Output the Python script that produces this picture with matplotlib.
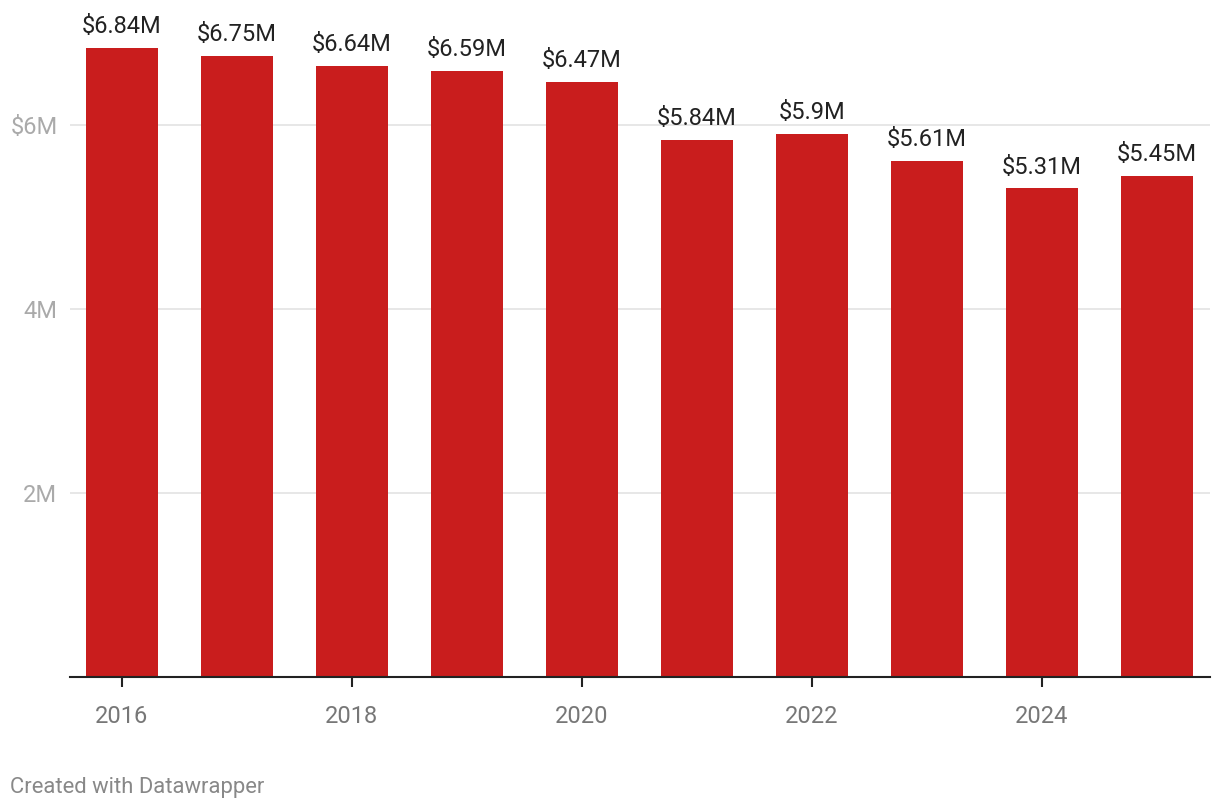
import numpy as np
import matplotlib
matplotlib.use("Agg")
import matplotlib.pyplot as plt

plt.rcParams["font.family"] = ["Roboto", "DejaVu Sans"]

years = [2016, 2017, 2018, 2019, 2020, 2021, 2022, 2023, 2024, 2025]
values = [6.84, 6.75, 6.64, 6.59, 6.47, 5.84, 5.90, 5.61, 5.31, 5.45]
labels = ["$6.84M", "$6.75M", "$6.64M", "$6.59M", "$6.47M",
          "$5.84M", "$5.9M", "$5.61M", "$5.31M", "$5.45M"]
yticks = [2, 4, 6]
ytick_labels = ["2M", "4M", "$6M"]
xticks = [2016, 2018, 2020, 2022, 2024]

fig = plt.figure(figsize=(12.2, 8.1), dpi=100)
ax = fig.add_axes([70 / 1220, 133 / 810, 1140 / 1220, 644 / 810])

ax.bar(years, values, width=0.626, color="#c91d1d", zorder=2)
for x, v, lab in zip(years, values, labels):
    ax.annotate(lab, (x, v), xytext=(0, 7), textcoords="offset points",
                ha="center", va="bottom", fontsize=17, color="#222222")

ax.set_xlim(2015.55, 2025.46)
ax.set_ylim(0, 7.0)
ax.set_yticks(yticks)
ax.set_yticklabels(ytick_labels)
ax.set_xticks(xticks)
ax.set_xticklabels([str(x) for x in xticks])

ax.grid(axis="y", color="#e3e3e3", linewidth=1.2, zorder=0)
for s in ["top", "right", "left"]:
    ax.spines[s].set_visible(False)
ax.spines["bottom"].set_color("#222222")
ax.spines["bottom"].set_linewidth(1.5)
ax.spines["bottom"].set_zorder(3)

ax.tick_params(axis="y", length=0, pad=9, labelsize=17, labelcolor="#aaaaaa")
ax.tick_params(axis="x", length=7, width=1.5, color="#222222", pad=13,
               labelsize=17, labelcolor="#777777")

fig.text(10 / 1220, 1 - 787 / 810, "Created with Datawrapper", fontsize=15.8,
         color="#888888", va="center", ha="left")

fig.savefig("out.png", dpi=100)
